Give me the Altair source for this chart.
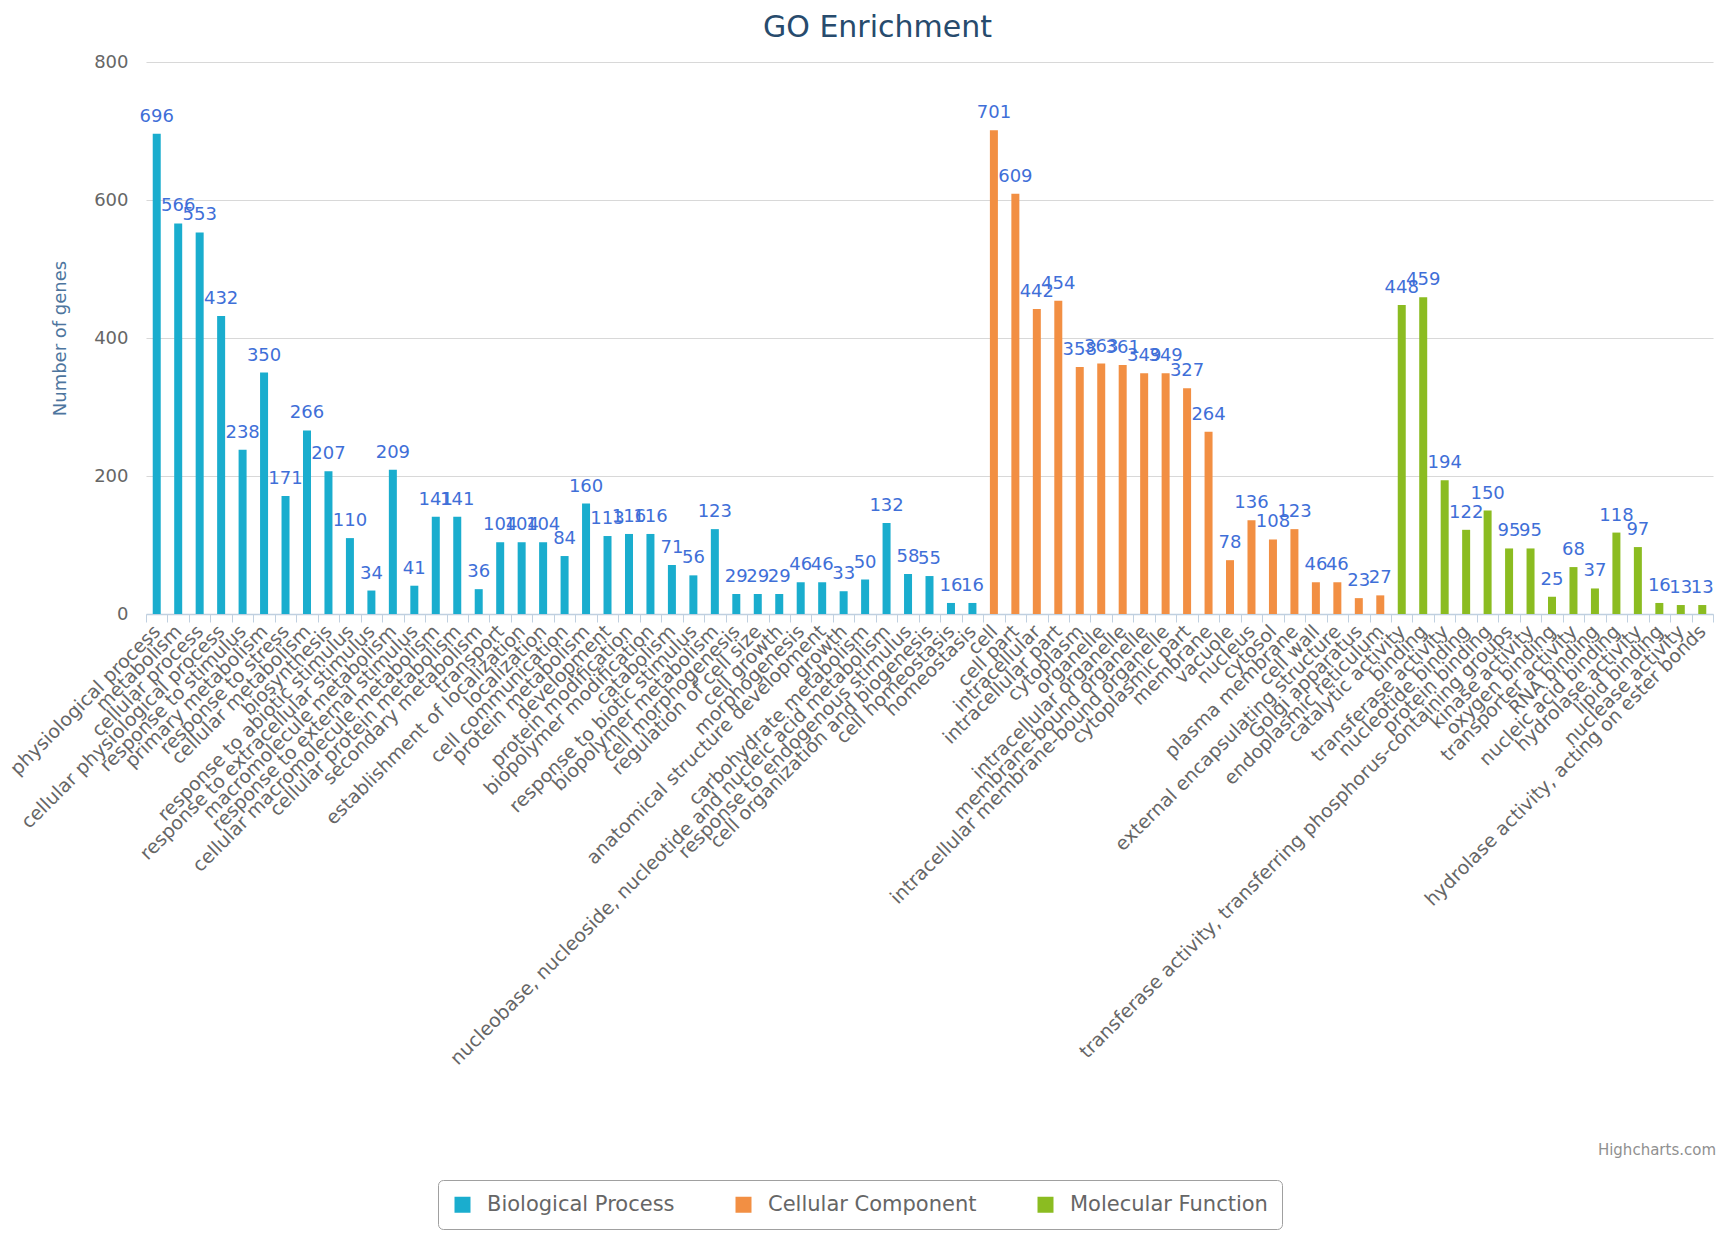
import altair as alt
import pandas as pd

bp_terms = [
    "physiological process", "metabolism", "cellular process", "cellular physiological process",
    "response to stimulus", "primary metabolism", "response to stress", "cellular metabolism",
    "biosynthesis", "response to abiotic stimulus", "response to extracellular stimulus",
    "macromolecule metabolism", "response to external stimulus", "cellular macromolecule metabolism",
    "cellular protein metabolism", "secondary metabolism", "transport", "establishment of localization",
    "localization", "cell communication", "protein metabolism", "development", "protein modification",
    "biopolymer modification", "catabolism", "response to biotic stimulus", "biopolymer metabolism",
    "cell morphogenesis", "regulation of cell size", "cell growth", "morphogenesis",
    "anatomical structure development", "growth", "carbohydrate metabolism",
    "nucleobase, nucleoside, nucleotide and nucleic acid metabolism", "response to endogenous stimulus",
    "cell organization and biogenesis", "cell homeostasis", "homeostasis",
]
bp_counts = [696, 566, 553, 432, 238, 350, 171, 266, 207, 110, 34, 209, 41, 141, 141, 36, 104, 104,
             104, 84, 160, 113, 116, 116, 71, 56, 123, 29, 29, 29, 46, 46, 33, 50, 132, 58, 55, 16, 16]

cc_terms = [
    "cell", "cell part", "intracellular", "intracellular part", "cytoplasm", "organelle",
    "intracellular organelle", "membrane-bound organelle", "intracellular membrane-bound organelle",
    "cytoplasmic part", "membrane", "vacuole", "nucleus", "cytosol", "plasma membrane", "cell wall",
    "external encapsulating structure", "Golgi apparatus", "endoplasmic reticulum",
]
cc_counts = [701, 609, 442, 454, 358, 363, 361, 349, 349, 327, 264, 78, 136, 108, 123, 46, 46, 23, 27]

mf_terms = [
    "catalytic activity", "binding", "transferase activity", "nucleotide binding", "protein binding",
    "transferase activity, transferring phosphorus-containing groups", "kinase activity",
    "oxygen binding", "transporter activity", "RNA binding", "nucleic acid binding",
    "hydrolase activity", "lipid binding", "nuclease activity",
    "hydrolase activity, acting on ester bonds",
]
mf_counts = [448, 459, 194, 122, 150, 95, 95, 25, 68, 37, 118, 97, 16, 13, 13]

categories = ["Biological Process", "Cellular Component", "Molecular Function"]
colors = ["#1aadce", "#f28f43", "#8bbc21"]

rows = []
for cat, terms, counts in zip(categories, [bp_terms, cc_terms, mf_terms],
                              [bp_counts, cc_counts, mf_counts]):
    for t, c in zip(terms, counts):
        rows.append({"term": t, "count": c, "category": cat})
df = pd.DataFrame(rows)
order = bp_terms + cc_terms + mf_terms

FONT = "DejaVu Sans"

x_enc = alt.X(
    "term:N", sort=order,
    scale=alt.Scale(paddingInner=0, paddingOuter=0),
    axis=alt.Axis(
        title=None, labelAngle=-45, labelAlign="right", labelBaseline="middle",
        labelFontSize=19, labelColor="#666666", labelFont=FONT, labelLimit=1000,
        labelOverlap=False, labelPadding=6, ticks=True, tickBand="extent",
        tickColor="#C0D0E0", tickSize=8, domainColor="#C0D0E0", domainWidth=1.5, grid=False,
    ),
)
y_enc = alt.Y(
    "count:Q",
    scale=alt.Scale(domain=[0, 800], nice=False),
    axis=alt.Axis(
        values=[0, 200, 400, 600, 800], title="Number of genes", titleFont=FONT,
        titleFontSize=18, titleFontWeight="normal", titleColor="#4d759e", titlePadding=24,
        labelFont=FONT, labelFontSize=18, labelColor="#666666", labelPadding=18,
        ticks=False, domain=False, gridColor="#d8d8d8", gridWidth=1.2,
    ),
)

bars = alt.Chart(df).mark_bar(size=8).encode(
    x=x_enc,
    y=y_enc,
    color=alt.Color(
        "category:N",
        scale=alt.Scale(domain=categories, range=colors),
        legend=alt.Legend(
            title=None, orient="none", legendX=292, legendY=1118, direction="horizontal",
            columns=3, symbolType="square", symbolSize=256, symbolStrokeWidth=0,
            labelFontSize=21, labelColor="#666666", labelFont=FONT, labelLimit=1000,
            strokeColor="#a0a0a0", cornerRadius=5, padding=14, columnPadding=58,
            labelOffset=14, fillColor="white",
        ),
    ),
)

labels = alt.Chart(df).mark_text(
    baseline="bottom", dy=-8, fontSize=18, font=FONT, color="#3f6fd8"
).encode(x=alt.X("term:N", sort=order), y="count:Q", text="count:Q")

credits = alt.Chart(pd.DataFrame({"t": ["Highcharts.com"]})).mark_text(
    align="right", baseline="middle", fontSize=15, font=FONT, color="#909090"
).encode(x=alt.value(1570), y=alt.value(1088), text="t:N")

chart = alt.layer(bars, labels, credits).properties(
    width=1567,
    height=552,
    title=alt.TitleParams(
        "GO Enrichment", fontSize=30, color="#274b6d", font=FONT, fontWeight="normal",
        anchor="middle", dx=-52, offset=10,
    ),
    padding={"left": 138, "top": 54, "right": 7, "bottom": 618},
    autosize=alt.AutoSizeParams(type="none"),
).configure_view(stroke=None)

chart.save("out.html", embed_options={"renderer": "svg", "actions": False})
